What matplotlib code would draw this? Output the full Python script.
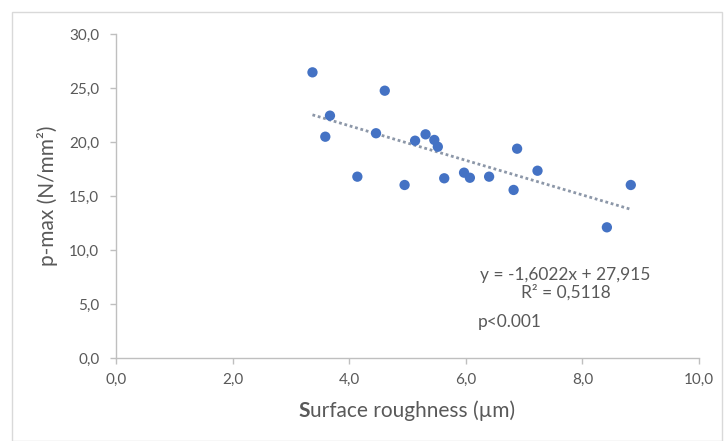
import matplotlib
matplotlib.use("Agg")
import matplotlib.pyplot as plt
from matplotlib.patches import Rectangle
import numpy as np

roughness = [3.37, 4.61, 3.67, 3.59, 4.46, 4.14, 4.95, 5.13, 5.31, 5.46, 5.52, 5.63,
             5.97, 6.07, 6.40, 6.88, 6.82, 7.23, 8.42, 8.83]
pmax = [26.45, 24.75, 22.44, 20.49, 20.81, 16.79, 16.02, 20.12, 20.71, 20.19, 19.56, 16.64,
        17.16, 16.69, 16.79, 19.38, 15.56, 17.34, 12.10, 16.02]
slope = -1.6022
intercept = 27.915
x_ticks = [0, 2, 4, 6, 8, 10]
y_ticks = [0, 5, 10, 15, 20, 25, 30]

plt.rcParams['font.family'] = ['Lato', 'DejaVu Sans']
gray = '#595959'
W, H = 724, 441
L, R, T, B = 116, 699, 34, 358

fig = plt.figure(figsize=(7.24, 4.41), dpi=100)
fig.patches.append(Rectangle((12/W, 0), (722-12)/W, 1-12/H, transform=fig.transFigure,
                             fill=False, edgecolor='#d9d9d9', lw=1.0))
ax = fig.add_axes([L/W, 1-B/H, (R-L)/W, (B-T)/H])

ax.scatter(roughness, pmax, s=55, color='#4472C4', zorder=3, edgecolors='none')
xs = np.array([min(roughness), max(roughness)])
ax.plot(xs, slope*xs + intercept, linestyle=(0, (1, 1)), color='#8c97a8', lw=2.0, zorder=2)

ax.set_xlim(0, 10)
ax.set_ylim(0, 30)
ax.set_xticks(x_ticks)
ax.set_yticks(y_ticks)
ax.set_xticklabels([f"{v:.1f}".replace('.', ',') for v in x_ticks])
ax.set_yticklabels([f"{v:.1f}".replace('.', ',') for v in y_ticks])
for s in ['top', 'right']:
    ax.spines[s].set_visible(False)
for s in ['left', 'bottom']:
    ax.spines[s].set_color('#bfbfbf')
    ax.spines[s].set_linewidth(1.0)
ax.tick_params(axis='both', colors='#bfbfbf', labelcolor=gray, labelsize=11, length=4, width=1.0)
ax.tick_params(axis='x', pad=7)
ax.tick_params(axis='y', pad=8)

fig.text(47/W, 1-196/H, 'p-max (N/mm²)', rotation=90, ha='center', va='center',
         fontsize=15, color=gray)

renderer = fig.canvas.get_renderer()
yl = 1-411/H
t1 = fig.text(0, yl, 'S', fontweight='bold', fontsize=15, color=gray, ha='left', va='center')
t2 = fig.text(0, yl, 'urface roughness (µm)', fontsize=15, color=gray, ha='left', va='center')
w1 = t1.get_window_extent(renderer).width
w2 = t2.get_window_extent(renderer).width
x0 = 407 - (w1 + w2) / 2
t1.set_x(x0 / W)
t2.set_x((x0 + w1) / W)

ax.text(7.70, 7.71, 'y = -1,6022x + 27,915', ha='center', va='center', fontsize=12.5, color=gray)
ax.text(7.72, 6.04, 'R² = 0,5118', ha='center', va='center', fontsize=12.5, color=gray)
ax.text(6.21, 3.34, 'p<0.001', ha='left', va='center', fontsize=12.5, color=gray)

fig.savefig('out.png', dpi=100)
